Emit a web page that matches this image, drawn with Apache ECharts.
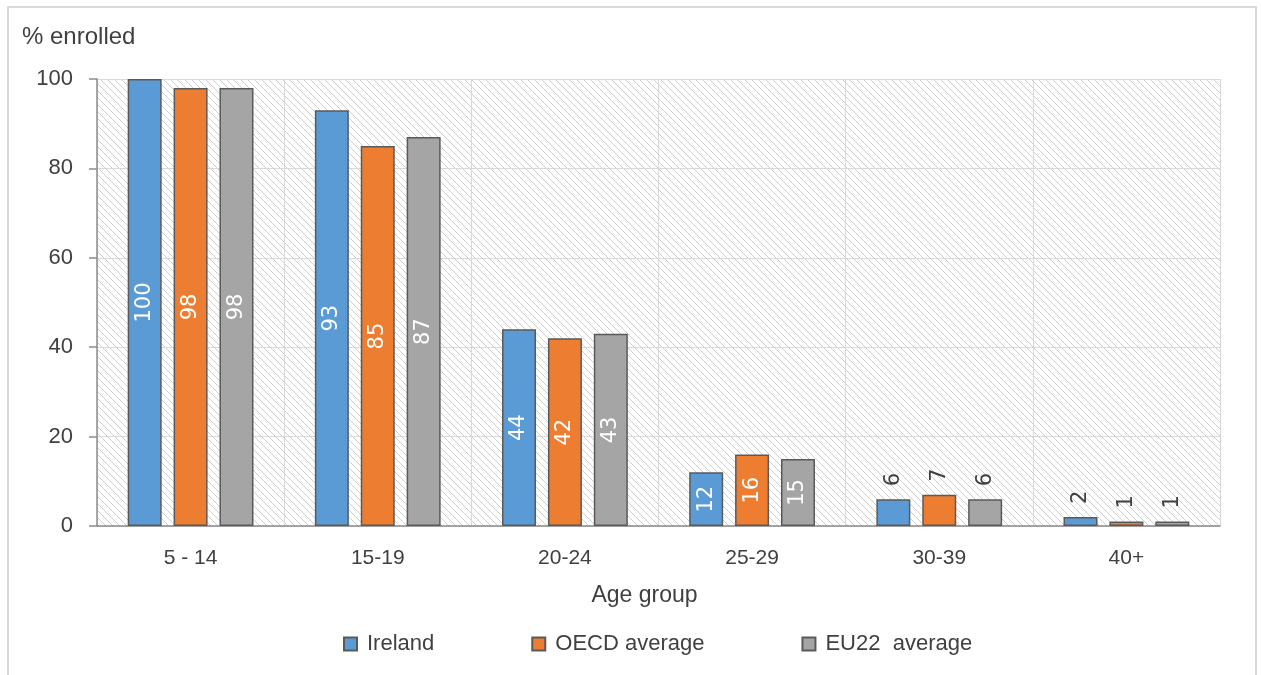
<!DOCTYPE html>
<html>
<head>
<meta charset="utf-8">
<script src="https://cdn.jsdelivr.net/npm/echarts@6/dist/echarts.min.js"></script>
<style>
html,body{margin:0;padding:0;background:#fff;}
#chart{width:1261px;height:675px;}
</style>
</head>
<body>
<div id="chart"></div>
<script>
var categories = ['5 - 14', '15-19', '20-24', '25-29', '30-39', '40+'];
var ireland = [100, 93, 44, 12, 6, 2];
var oecd = [98, 85, 42, 16, 7, 1];
var eu22 = [98, 87, 43, 15, 6, 1];
var seriesNames = ['Ireland', 'OECD average', 'EU22  average'];
var yTicks = [0, 20, 40, 60, 80, 100];

var FONT = '"Liberation Sans", Arial, sans-serif';
var LFONT = '"DejaVu Sans", sans-serif';
var TXT = '#404040';

// hatch pattern
var T = 7;
var tile = document.createElement('canvas');
tile.width = T; tile.height = T;
var ctx = tile.getContext('2d');
ctx.fillStyle = '#ffffff';
ctx.fillRect(0, 0, T, T);
ctx.strokeStyle = '#cfcfcf';
ctx.lineWidth = 1;
for (var k = -1; k <= 1; k++) {
  ctx.beginPath();
  ctx.moveTo(k * T - 1, -1);
  ctx.lineTo(k * T + T + 1, T + 1);
  ctx.stroke();
}

function makeData(arr) {
  return arr.map(function (v) {
    if (v >= 10) {
      return { value: v, label: { position: 'inside', rotate: 90, color: '#ffffff' } };
    }
    return { value: v, label: { position: 'top', rotate: 90, align: 'left', verticalAlign: 'middle', distance: 13, color: TXT } };
  });
}

var colors = ['#5B9BD5', '#ED7D31', '#A5A5A5'];
var values = [ireland, oecd, eu22];

var series = values.map(function (arr, i) {
  return {
    name: seriesNames[i],
    type: 'bar',
    data: makeData(arr),
    barWidth: 34,
    barGap: '35%',
    itemStyle: { color: colors[i], borderColor: '#5a5a5a', borderWidth: 1.5 },
    label: { show: true, fontSize: 21, fontFamily: LFONT },
    animation: false
  };
});

var chart = echarts.init(document.getElementById('chart'));
chart.setOption({
  animation: false,
  color: colors,
  title: {
    text: '% enrolled',
    left: 17, top: 20,
    textStyle: { fontSize: 24, fontWeight: 'normal', color: TXT, fontFamily: FONT }
  },
  graphic: [{
    type: 'rect',
    shape: { x: 8, y: 7, width: 1248, height: 700 },
    style: { fill: null, stroke: '#d9d9d9', lineWidth: 2 },
    silent: true, z: -10
  }],
  grid: {
    left: 97, right: 41, top: 79, bottom: 149,
    show: true,
    backgroundColor: { image: tile, repeat: 'repeat' },
    borderWidth: 0
  },
  legend: {
    bottom: 15,
    left: 338,
    icon: 'rect',
    itemWidth: 13, itemHeight: 13,
    itemGap: 97,
    textStyle: { fontSize: 22, color: TXT, fontFamily: FONT, padding: [0, 0, 0, 5] },
    data: seriesNames
  },
  xAxis: {
    type: 'category',
    data: categories,
    name: 'Age group',
    nameLocation: 'middle',
    nameGap: 58,
    nameTextStyle: { fontSize: 23, color: TXT, fontFamily: FONT, padding: [0, 28, 0, 0] },
    axisLine: { show: true, lineStyle: { color: '#8c8c8c', width: 1.5 } },
    axisTick: { show: false },
    axisLabel: { fontSize: 21, color: TXT, fontFamily: FONT, margin: 22 },
    splitLine: { show: true, lineStyle: { color: '#d9d9d9', width: 1 } }
  },
  yAxis: {
    type: 'value',
    min: 0, max: 100, interval: 20,
    axisLine: { show: true, lineStyle: { color: '#8c8c8c', width: 1.5 } },
    axisTick: { show: true, length: 8, lineStyle: { color: '#8c8c8c', width: 1.5 } },
    axisLabel: {
      fontSize: 22, color: TXT, fontFamily: FONT, margin: 24,
      formatter: function (v) { return yTicks.indexOf(v) >= 0 ? String(v) : ''; }
    },
    splitLine: { show: true, lineStyle: { color: '#d9d9d9', width: 1 } }
  },
  series: series
});
</script>
</body>
</html>
